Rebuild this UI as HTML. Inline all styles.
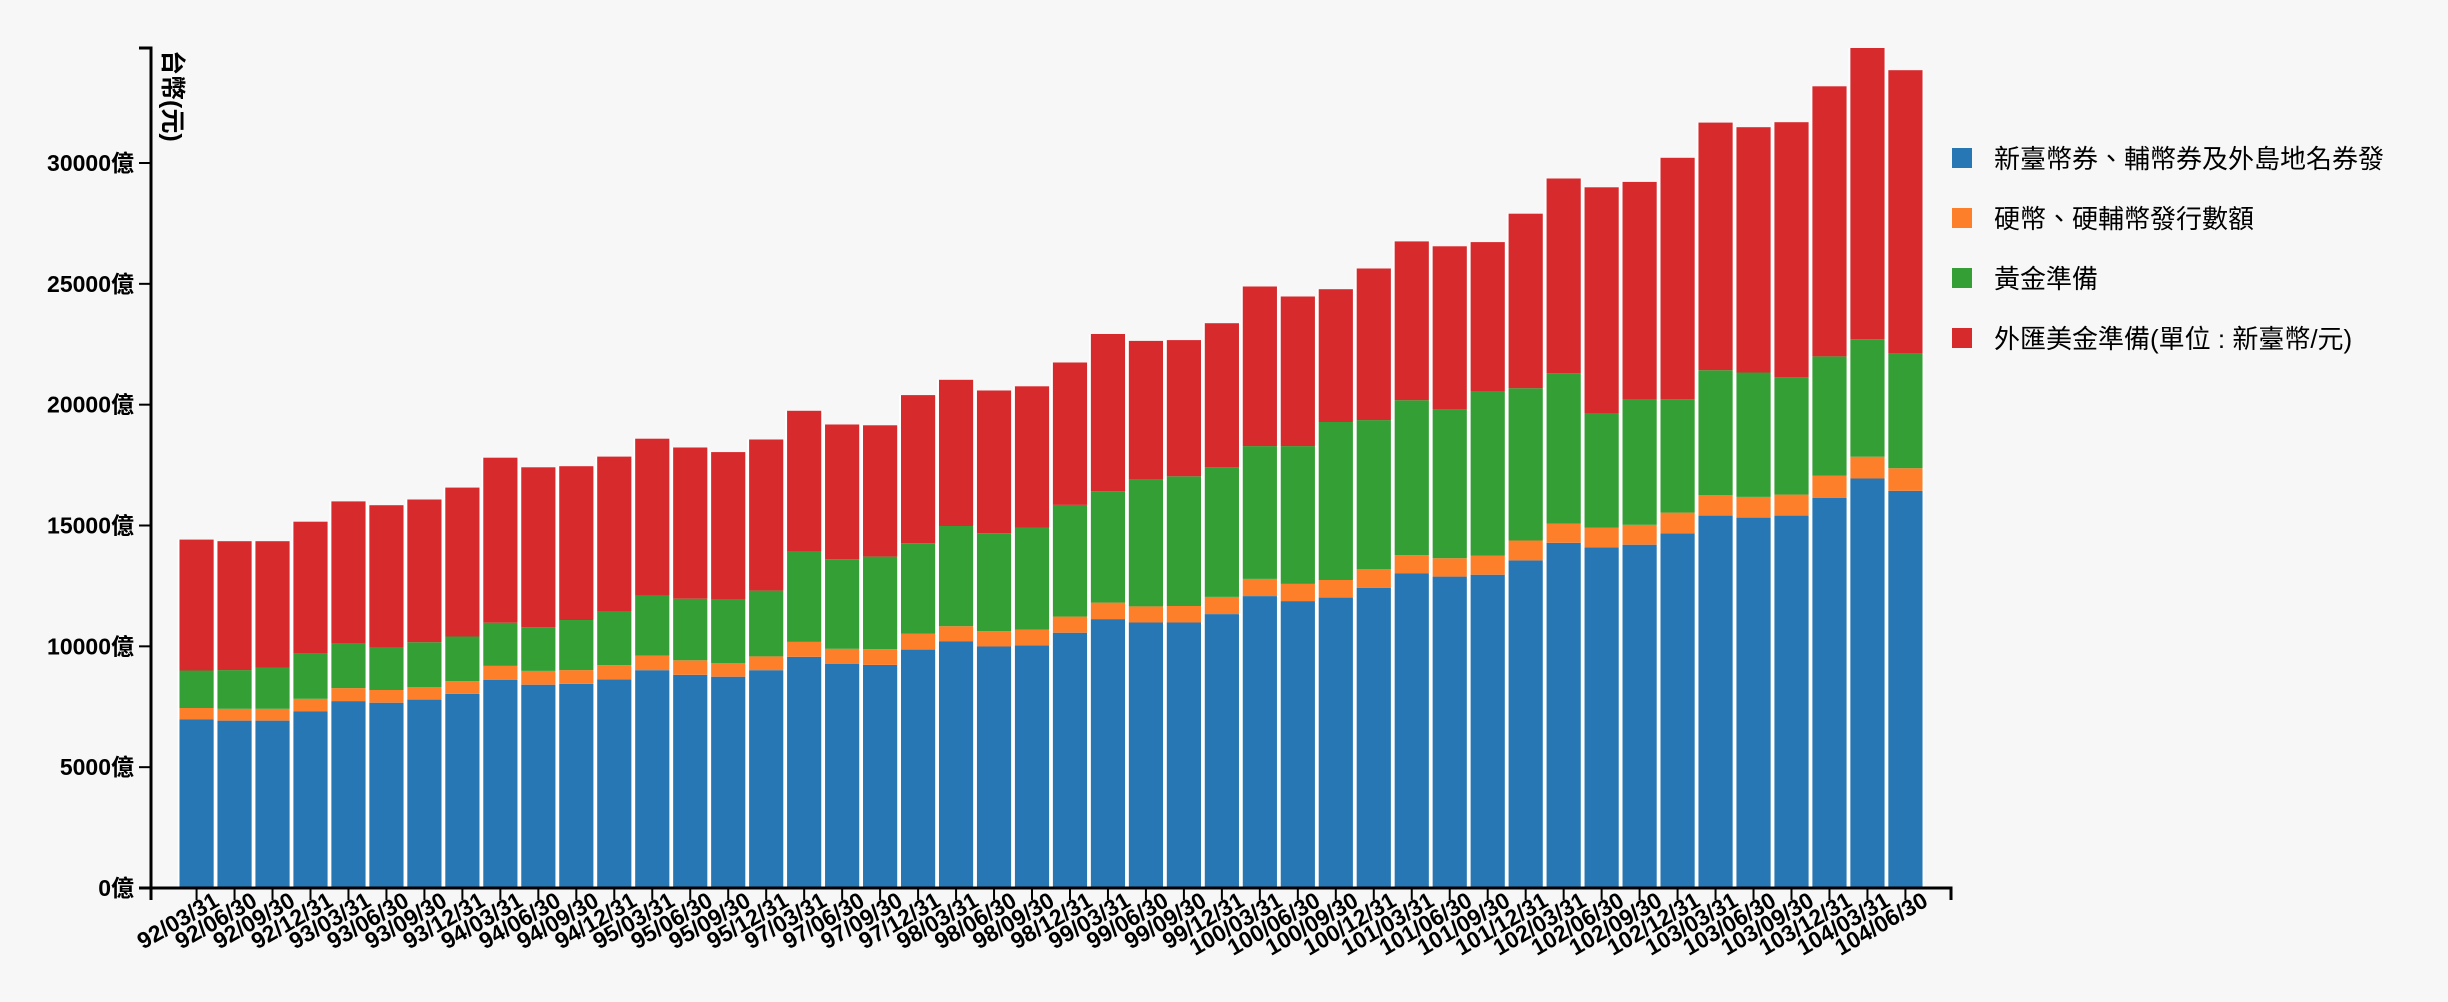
<!DOCTYPE html>
<html><head><meta charset="utf-8">
<style>
html,body{margin:0;padding:0;background:#f7f7f7;}
svg{display:block;font-family:"Liberation Sans","Noto Sans CJK TC",sans-serif;}
.tick text{font-weight:bold;font-size:23px;fill:#000;}
</style></head>
<body>
<svg id="chart" width="2448" height="1002" xmlns="http://www.w3.org/2000/svg">
  <rect x="0" y="0" width="2448" height="1002" fill="#f7f7f7"/>
  <g id="bars"></g>
  <g id="xaxis"></g>
  <g id="yaxis"></g>
  <text transform="translate(164,50) rotate(90)" font-size="25" font-weight="bold" font-family="Liberation Sans, Noto Sans CJK TC, sans-serif">台幣(元)</text>
  <g id="legend"></g>
</svg>
<script>
const categories = ["92/03/31","92/06/30","92/09/30","92/12/31","93/03/31","93/06/30","93/09/30","93/12/31","94/03/31","94/06/30","94/09/30","94/12/31","95/03/31","95/06/30","95/09/30","95/12/31","97/03/31","97/06/30","97/09/30","97/12/31","98/03/31","98/06/30","98/09/30","98/12/31","99/03/31","99/06/30","99/09/30","99/12/31","100/03/31","100/06/30","100/09/30","100/12/31","101/03/31","101/06/30","101/09/30","101/12/31","102/03/31","102/06/30","102/09/30","102/12/31","103/03/31","103/06/30","103/09/30","103/12/31","104/03/31","104/06/30"];
const banknotes = [6973,6926,6926,7304,7734,7668,7796,8032,8620,8413,8446,8636,9013,8822,8744,9013,9567,9282,9232,9865,10200,9993,10043,10564,11127,10986,10986,11334,12079,11872,12017,12426,13014,12886,12964,13556,14284,14094,14206,14678,15410,15327,15410,16151,16945,16436];
const coins = [475,489,489,525,538,525,521,525,571,571,571,584,600,600,567,571,617,616,650,666,633,633,645,667,683,667,683,712,712,712,728,762,757,761,795,824,791,823,823,856,852,857,869,906,902,935];
const gold = [1552,1602,1710,1866,1837,1755,1854,1850,1787,1804,2073,2217,2487,2549,2615,2722,3736,3708,3831,3737,4147,4056,4213,4622,4606,5255,5367,5371,5495,5702,6538,6174,6414,6158,6807,6302,6223,4705,5177,4688,5165,5147,4862,4941,4862,4751];
const forex = [5417,5334,5226,5463,5889,5892,5905,6162,6828,6621,6364,6414,6492,6257,6112,6253,5827,5574,5434,6128,6049,5905,5859,5892,6509,5731,5636,5954,6604,6190,5495,6273,6571,6749,6161,7221,8061,9373,9012,9994,10245,10151,10548,11176,12050,11719];
const yTicks = [0,5000,10000,15000,20000,25000,30000];
const seriesNames = ["新臺幣券、輔幣券及外島地名券發","硬幣、硬輔幣發行數額","黃金準備","外匯美金準備(單位 : 新臺幣/元)"];

const NS="http://www.w3.org/2000/svg";
const colors=["#2677b4","#fe7f2a","#339f34","#d62a2d"];
const series=[banknotes,coins,gold,forex];
const X0=151,X1=1951,Y0=888,Y1=48;
const totals=categories.map((c,i)=>series.reduce((s,a)=>s+a[i],0));
const yMax=Math.max(...totals);
const yScale=v=>Y0-(v/yMax)*(Y0-Y1);
const n=categories.length;
const pOuter=0.75,pInner=0.1;
const step=(X1-X0)/(n-pInner+2*pOuter);
const bw=step*(1-pInner);
const xScale=i=>X0+step*pOuter+i*step;

function mk(tag,attrs,parent){const e=document.createElementNS(NS,tag);for(const k in attrs)e.setAttribute(k,attrs[k]);parent.appendChild(e);return e;}

const bars=document.getElementById('bars');
categories.forEach((c,i)=>{
  const x=xScale(i);
  const bg=mk('rect',{x:x-(step-bw)/2,y:yScale(totals[i]),width:step,height:Y0-yScale(totals[i]),fill:'#ffffff'},bars);
  
  
  let cum=0;
  series.forEach((arr,s)=>{
    const y0=yScale(cum),y1=yScale(cum+arr[i]);
    cum+=arr[i];
    const r=mk('rect',{x:x,y:y1,width:bw,height:Math.max(0,y0-y1),fill:colors[s]},bars);
    
    
  });
});

const xa=document.getElementById('xaxis');
mk('path',{d:`M${X0},${Y0+12}V${Y0}H${X1}V${Y0+12}`,stroke:'#000','stroke-width':3,fill:'none'},xa);
categories.forEach((c,i)=>{
  const cx=xScale(i)+bw/2;
  const g=mk('g',{class:'tick'},xa);
  
  
  mk('line',{x1:cx,x2:cx,y1:Y0,y2:Y0+12,stroke:'#000','stroke-width':2},g);
  const t=mk('text',{'text-anchor':'end',transform:`translate(${cx+24},${Y0+17}) rotate(-30)`,'font-size':23},g);
  
  
  t.textContent=c;
});

const ya=document.getElementById('yaxis');
mk('path',{d:`M${X0-12},${Y1}H${X0}V${Y0}H${X0-12}`,stroke:'#000','stroke-width':3,fill:'none'},ya);
yTicks.forEach(v=>{
  const y=yScale(v);
  const g=mk('g',{class:'tick'},ya);
  
  
  mk('line',{x1:X0-12,x2:X0,y1:y,y2:y,stroke:'#000','stroke-width':2},g);
  const t=mk('text',{x:X0-17,y:y+8,'text-anchor':'end','font-size':24},g);
  
  
  t.textContent=v+'億';
});

const lg=document.getElementById('legend');
seriesNames.forEach((name,i)=>{
  const y=148+i*60;
  const g=mk('g',{},lg);
  
  
  mk('rect',{x:1952,y:y,width:20,height:20,fill:colors[i]},g);
  const t=mk('text',{x:1994,y:y+20,'font-size':26,fill:'#000'},g);
  
  
  t.textContent=name;
});
</script>
</body></html>
